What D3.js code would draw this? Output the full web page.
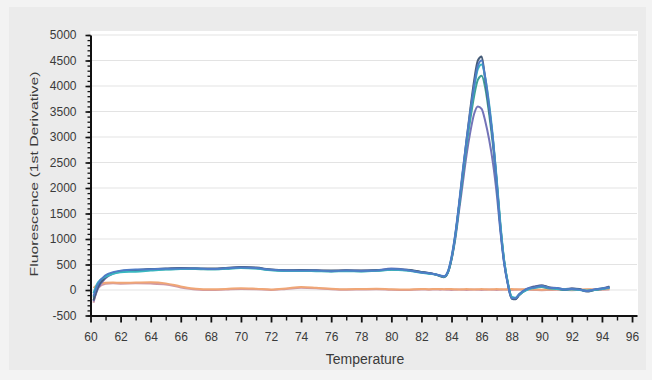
<!DOCTYPE html>
<html>
<head>
<meta charset="utf-8">
<script src="https://cdn.jsdelivr.net/npm/d3@7"></script>
<style>
  html, body { margin: 0; padding: 0; background: #f3f3f3; }
  svg { display: block; }
  text { font-family: "Liberation Sans", Arial, sans-serif; }
</style>
</head>
<body>
<svg id="chart" width="652" height="380"></svg>
<script>
// Melt curve: first derivative of fluorescence against temperature
const temps = [60.2, 60.5, 61, 61.5, 62, 63, 64, 65, 66, 67, 68, 69, 70, 71, 72, 73, 74, 75, 76, 77, 78, 79, 80, 81, 82, 82.5, 83,
  83.25, 83.5, 83.75, 84, 84.25, 84.5, 84.75, 85, 85.25, 85.5, 85.75, 86, 86.25, 86.5, 86.75, 87, 87.25, 87.5, 87.75, 88, 88.25, 88.5,
  89, 89.5, 90, 90.5, 91, 91.5, 92, 92.5, 93, 93.5, 94, 94.5];

// no-template controls
const ntcPink = [-250, 40, 120, 130, 125, 130, 125, 110, 50, 10, 0, 10, 20, 15, 0, 20, 45, 35, 15, 5, 10, 15, 5, 0, 10, 5, 10,
  5, 10, 5, 0, 5, 10, 5, 0, 5, 10, 5, 0, 5, 10, 5, 0, 5, 10, 5, 0, 5, 10,
  5, 0, -5, 0, 5, 0, -5, 0, 5, 0, 5, 10];
const ntcOrange = [40, 110, 140, 145, 140, 145, 150, 130, 70, 25, 15, 20, 35, 25, 10, 30, 60, 45, 25, 15, 20, 25, 15, 10, 20, 15, 20,
  20, 15, 20, 20, 15, 10, 15, 20, 15, 10, 15, 20, 15, 10, 15, 20, 15, 10, 15, 20, 15, 10,
  15, 10, 5, 10, 15, 10, 5, 10, 15, 10, 15, 20];

// amplified samples
const sampleA = [-220, 30, 230, 320, 360, 380, 400, 410, 420, 415, 410, 420, 445, 430, 395, 380, 385, 380, 375, 380, 378, 385, 420, 395, 350, 330, 300,
  275, 260, 340, 600, 1000, 1550, 2100, 2650, 3100, 3450, 3600, 3550, 3300, 2950, 2500, 1900, 1150, 520, 110, -150, -170, -100,
  20, 70, 90, 50, 40, 20, 30, 10, -20, 10, 30, 70];
const sampleB = [-150, 90, 270, 335, 365, 385, 395, 405, 415, 410, 405, 420, 435, 425, 390, 375, 380, 375, 370, 375, 370, 380, 400, 385, 350, 325, 300,
  280, 265, 350, 630, 1080, 1650, 2250, 2850, 3350, 3800, 4120, 4200, 3950, 3450, 2850, 2100, 1250, 560, 130, -140, -160, -90,
  10, 50, 60, 30, 30, 0, 20, 10, -20, 0, 30, 50];
const sampleC = [-60, 150, 260, 320, 350, 360, 380, 400, 410, 415, 405, 415, 430, 420, 385, 375, 375, 370, 365, 370, 365, 375, 395, 380, 340, 320, 300,
  280, 260, 340, 620, 1050, 1650, 2300, 2900, 3450, 3950, 4330, 4420, 4150, 3650, 3000, 2200, 1300, 580, 140, -130, -150, -90,
  0, 40, 70, 40, 20, 10, 10, 0, -10, 0, 20, 40];
const sampleD = [-120, 120, 290, 350, 380, 400, 405, 415, 420, 420, 410, 425, 440, 430, 395, 380, 380, 380, 370, 380, 375, 380, 410, 390, 345, 330, 305,
  285, 270, 360, 650, 1100, 1700, 2350, 2950, 3500, 4000, 4400, 4500, 4150, 3600, 2950, 2100, 1200, 520, 100, -160, -160, -80,
  20, 50, 80, 40, 40, 10, 20, 10, -20, 10, 30, 50];
const sampleE = [-200, 60, 250, 330, 370, 390, 410, 420, 430, 425, 420, 430, 450, 440, 400, 385, 390, 385, 380, 385, 380, 385, 400, 395, 355, 335, 300,
  270, 250, 330, 600, 1050, 1650, 2300, 2950, 3550, 4100, 4500, 4580, 4100, 3550, 2950, 2150, 1250, 560, 120, -170, -180, -100,
  10, 60, 90, 50, 30, 0, 30, 20, -30, 0, 20, 60];

const series = [
  { values: ntcPink,   color: "#cf98a4" },
  { values: ntcOrange, color: "#f0a676" },
  { values: sampleA,   color: "#7474b8" },
  { values: sampleB,   color: "#3f9f96" },
  { values: sampleE,   color: "#465c78" },
  { values: sampleC,   color: "#38b8c0" },
  { values: sampleD,   color: "#4f7cc6" }
];

const yTicks = [-500, 0, 500, 1000, 1500, 2000, 2500, 3000, 3500, 4000, 4500, 5000];
const xTicks = [60, 62, 64, 66, 68, 70, 72, 74, 76, 78, 80, 82, 84, 86, 88, 90, 92, 94, 96];

const svg = d3.select("#chart");

// panel background
svg.append("rect").attr("x", 9).attr("y", 7).attr("width", 637).attr("height", 363).attr("fill", "#ebebeb");

const x = d3.scaleLinear().domain([60, 96.33]).range([90.5, 637]);
const y = d3.scaleLinear().domain([-500, 5000]).range([315.5, 35]);

// plotting area
svg.append("rect")
  .attr("x", x(60)).attr("y", 31)
  .attr("width", x.range()[1] + 1 - x(60)).attr("height", y(-500) - 31)
  .attr("fill", "#ffffff");

// horizontal gridlines
svg.append("g").selectAll("line").data(yTicks.filter(d => d > -500)).join("line")
  .attr("x1", x(60)).attr("x2", x.range()[1])
  .attr("y1", d => y(d)).attr("y2", d => y(d))
  .attr("stroke", "#e3e3e3").attr("stroke-width", 1.2);

// curves
const line = d3.line()
  .x((d, i) => x(temps[i]))
  .y(d => y(d))
  .curve(d3.curveMonotoneX);

svg.append("g").selectAll("path").data(series).join("path")
  .attr("d", s => line(s.values))
  .attr("fill", "none")
  .attr("stroke", s => s.color)
  .attr("stroke-width", 2)
  .attr("stroke-linejoin", "round");

// y axis: minor then major ticks
const yMinor = d3.range(-500, 5001, 100);
svg.append("g").attr("transform", `translate(${x(60)},0)`)
  .call(d3.axisLeft(y).tickValues(yMinor).tickSize(3).tickFormat(""))
  .call(g => g.select(".domain").remove())
  .call(g => g.selectAll("line").attr("stroke", "#111").attr("stroke-width", 1.3));

svg.append("g").attr("transform", `translate(${x(60)},0)`)
  .call(d3.axisLeft(y).tickValues(yTicks).tickSize(5).tickSizeOuter(0).tickPadding(9).tickFormat(d => String(d)))
  .call(g => g.select(".domain").attr("stroke", "#111").attr("stroke-width", 2))
  .call(g => g.selectAll("line").attr("stroke", "#111").attr("stroke-width", 1.6))
  .call(g => g.selectAll("text").attr("fill", "#3a3a3a").attr("font-size", 12)
    .attr("font-family", "'Liberation Sans', Arial, sans-serif"));

// x axis: minor then major ticks
const xMinor = d3.range(61, 96, 2);
svg.append("g").attr("transform", `translate(0,${y(-500)})`)
  .call(d3.axisBottom(x).tickValues(xMinor).tickSize(5).tickFormat(""))
  .call(g => g.select(".domain").remove())
  .call(g => g.selectAll("line").attr("stroke", "#111").attr("stroke-width", 1.4));

svg.append("g").attr("transform", `translate(0,${y(-500)})`)
  .call(d3.axisBottom(x).tickValues(xTicks).tickSize(7).tickSizeOuter(0).tickPadding(10).tickFormat(d => String(d)))
  .call(g => g.select(".domain").attr("stroke", "#111").attr("stroke-width", 2))
  .call(g => g.selectAll("line").attr("stroke", "#111").attr("stroke-width", 1.8))
  .call(g => g.selectAll("text").attr("fill", "#3a3a3a").attr("font-size", 12)
    .attr("font-family", "'Liberation Sans', Arial, sans-serif"));

// axis titles
svg.append("text")
  .attr("x", 365).attr("y", 364)
  .attr("text-anchor", "middle")
  .attr("font-size", 14).attr("fill", "#3a3a3a")
  .text("Temperature");

svg.append("text")
  .attr("transform", "translate(38,174) rotate(-90)")
  .attr("text-anchor", "middle")
  .attr("font-size", 11).attr("fill", "#3a3a3a")
  .attr("textLength", 205).attr("lengthAdjust", "spacingAndGlyphs")
  .text("Fluorescence (1st Derivative)");
</script>
</body>
</html>
